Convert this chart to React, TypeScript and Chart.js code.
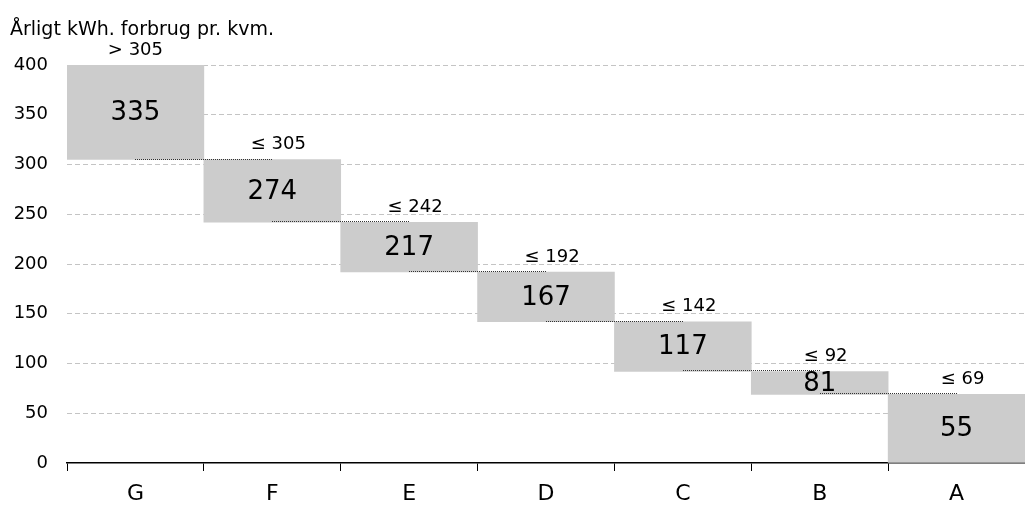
import React, { useEffect, useRef } from "react";
import { Chart, registerables } from "chart.js";

Chart.register(...registerables);

const categories = ["G", "F", "E", "D", "C", "B", "A"];
const lows = [305, 242, 192, 142, 92, 69, 0];
const highs = [400, 305, 242, 192, 142, 92, 69];
const values = [335, 274, 217, 167, 117, 81, 55];
const topLabels = ["> 305", "≤ 305", "≤ 242", "≤ 192", "≤ 142", "≤ 92", "≤ 69"];
const yTitle = "Årligt kWh. forbrug pr. kvm.";

const FONT = "'DejaVu Sans', Verdana, sans-serif";

export default function App() {
  const ref = useRef<HTMLCanvasElement | null>(null);
  useEffect(() => {
    document.body.style.margin = "0";
    const canvas = ref.current!;
    const overlay = {
      id: "overlay",
      afterDatasetsDraw(chart: any) {
        const ctx = chart.ctx;
        const x = chart.scales.x;
        const y = chart.scales.y;
        ctx.save();
        // dotted connectors
        ctx.strokeStyle = "#333";
        ctx.lineWidth = 1;
        ctx.setLineDash([1, 1]);
        for (let i = 0; i < categories.length - 1; i++) {
          const yy = Math.round(y.getPixelForValue(lows[i])) - 0.5;
          ctx.beginPath();
          ctx.moveTo(Math.round(x.getPixelForValue(i)), yy);
          ctx.lineTo(Math.round(x.getPixelForValue(i + 1)), yy);
          ctx.stroke();
        }
        ctx.setLineDash([]);
        ctx.fillStyle = "#000";
        ctx.textAlign = "center";
        ctx.textBaseline = "middle";
        // value labels
        ctx.font = `26px ${FONT}`;
        for (let i = 0; i < categories.length; i++) {
          const yc = (y.getPixelForValue(lows[i]) + y.getPixelForValue(highs[i])) / 2;
          ctx.fillText(String(values[i]), x.getPixelForValue(i), yc + 1);
        }
        // top labels
        ctx.font = `18px ${FONT}`;
        for (let i = 0; i < categories.length; i++) {
          ctx.fillText(topLabels[i], x.getPixelForValue(i) + (i === 0 ? 0 : 6), y.getPixelForValue(highs[i]) - 15);
        }
        // title
        ctx.textAlign = "left";
        ctx.font = `19px ${FONT}`;
        ctx.fillText(yTitle, 10, 30);
        ctx.restore();
      },
    };
    const chart = new Chart(canvas, {
      type: "bar",
      data: {
        labels: categories,
        datasets: [
          {
            data: categories.map((_, i) => [lows[i], highs[i]]) as any,
            backgroundColor: "#cccccc",
            borderWidth: 0,
            categoryPercentage: 1,
            barPercentage: 1,
          },
        ],
      },
      options: {
        animation: false,
        responsive: false,
        maintainAspectRatio: false,
        layout: { padding: { top: 65, left: 0, right: 0, bottom: 0 } },
        plugins: { legend: { display: false }, tooltip: { enabled: false } },
        scales: {
          x: {
            afterFit(scale: any) {
              scale.height = 43;
            },
            grid: {
              offset: true,
              drawOnChartArea: false,
              drawTicks: true,
              tickLength: 8,
              color: "#000",
            },
            border: { display: true, color: "#000", width: 1.5 },
            ticks: { color: "#000", font: { family: FONT, size: 22 }, padding: 10 },
          },
          y: {
            min: 0,
            max: 400,
            afterFit(scale: any) {
              scale.width = 67;
            },
            grid: {
              drawTicks: false,
              color: (c: any) => (c.tick && c.tick.value === 0 ? "rgba(0,0,0,0)" : "#c4c4c4"),
            },
            border: { display: false, dash: [5, 3] },
            ticks: { stepSize: 50, color: "#000", font: { family: FONT, size: 18 }, padding: 19 },
          },
        },
      },
      plugins: [overlay],
    });
    return () => chart.destroy();
  }, []);
  return (
    <div style={{ width: 1025, height: 506 }}>
      <canvas ref={ref} width={1025} height={506} style={{ display: "block" }} />
    </div>
  );
}
